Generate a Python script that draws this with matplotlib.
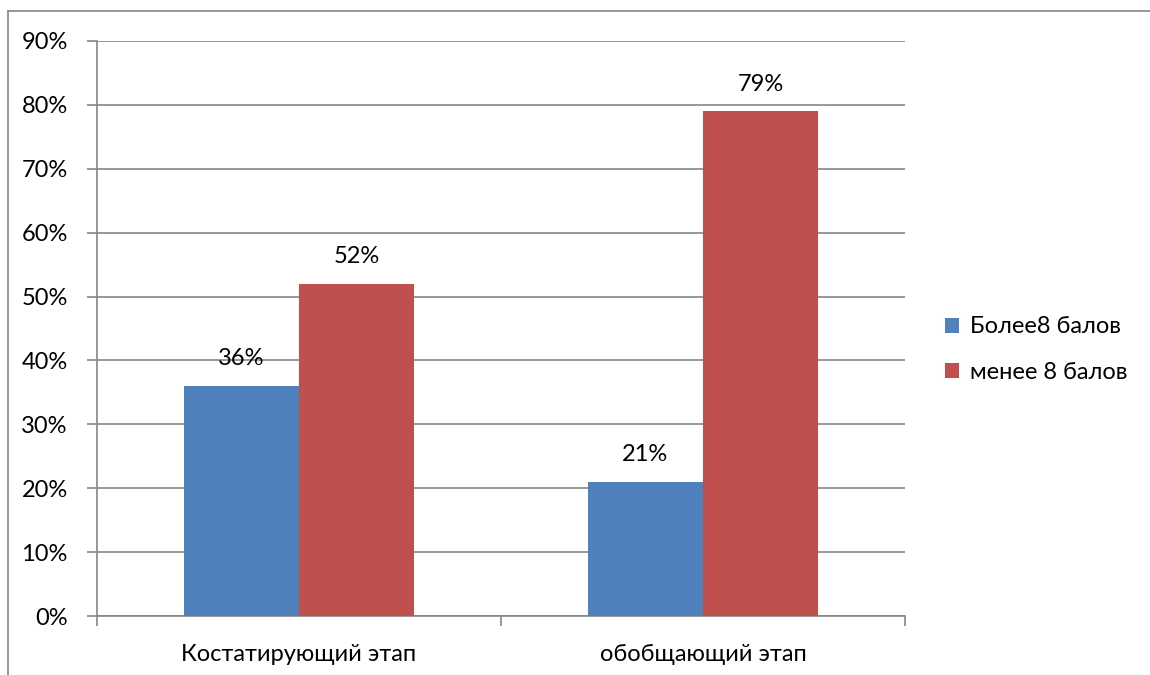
import matplotlib.pyplot as plt
from matplotlib.lines import Line2D
import numpy as np

plt.rcParams['font.family'] = ['Lato', 'DejaVu Sans']

# data
categories = ['Костатирующий этап', 'обобщающий этап']
series_names = ['Более8 балов', 'менее 8 балов']
more8 = [36, 21]
less8 = [52, 79]
colors = ['#4F81BD', '#C0504D']

fs = 17

fig = plt.figure(figsize=(11.5, 6.75), dpi=100)
ax = fig.add_axes([0.0843, 0.0874, 0.7027, 0.852])

x = np.arange(len(categories))
w = 0.285
b1 = ax.bar(x - w / 2, more8, w, color=colors[0], label=series_names[0], zorder=3)
b2 = ax.bar(x + w / 2, less8, w, color=colors[1], label=series_names[1], zorder=3)

for bars, vals in [(b1, more8), (b2, less8)]:
    for r, v in zip(bars, vals):
        ax.annotate('{}%'.format(v), (r.get_x() + r.get_width() / 2, v),
                    xytext=(0, 12), textcoords='offset points',
                    ha='center', va='bottom', fontsize=fs)

ax.set_xlim(-0.5, 1.5)
ax.set_ylim(0, 90)
ax.set_yticks(range(0, 91, 10))
ax.set_yticklabels(['{}%'.format(t) for t in range(0, 91, 10)], fontsize=fs)
ax.yaxis.grid(True, color='#868686', linewidth=1.2, zorder=0)
ax.set_axisbelow(True)

ax.set_xticks(x)
ax.set_xticklabels(categories, fontsize=fs)
ax.set_xticks([-0.5, 0.5, 1.5], minor=True)
ax.tick_params(axis='x', which='major', length=0, pad=20)
ax.tick_params(axis='x', which='minor', length=7, color='#868686', width=1.2)
ax.tick_params(axis='y', length=7, color='#868686', width=1.2, pad=14)

for s in ['top', 'right']:
    ax.spines[s].set_visible(False)
for s in ['left', 'bottom']:
    ax.spines[s].set_color('#868686')
    ax.spines[s].set_linewidth(1.2)

ax.legend(loc='center left', bbox_to_anchor=(1.023, 0.463), frameon=False,
          fontsize=fs, handlelength=0.6, handleheight=0.6,
          handletextpad=0.45, labelspacing=1.05)

# chart border (left and top visible)
fig.add_artist(Line2D([0.007, 0.007], [0.0, 0.984], color='#868686', lw=1.2))
fig.add_artist(Line2D([0.007, 1.0], [0.984, 0.984], color='#868686', lw=1.2))

fig.savefig('out.png', dpi=100)
